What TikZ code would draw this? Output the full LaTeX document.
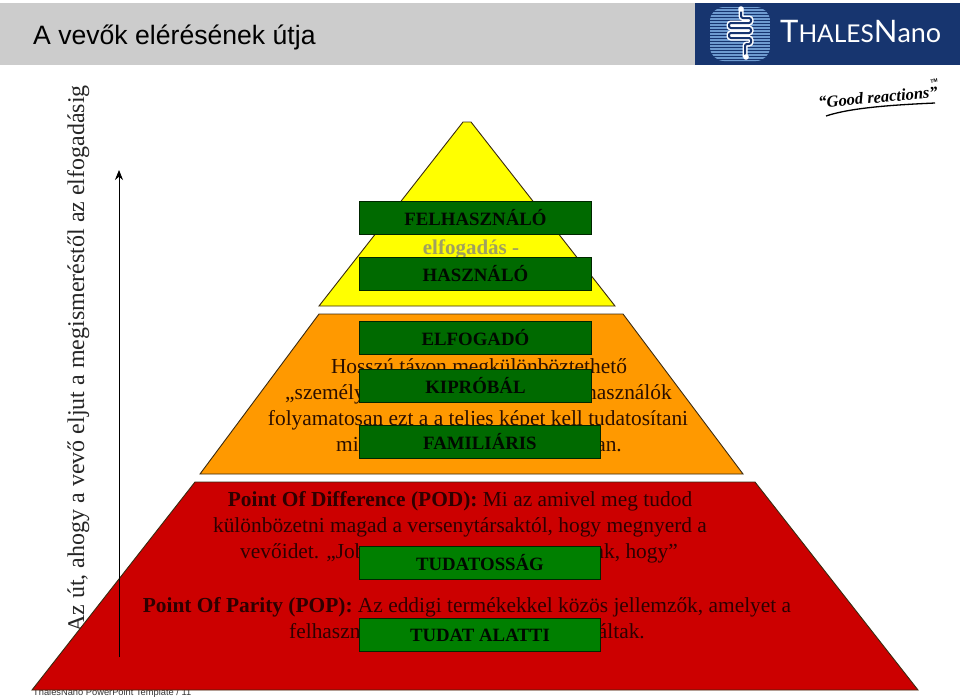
\documentclass[tikz,border=0pt]{standalone}
\usepackage{fontspec}
\setmainfont{Liberation Serif}
\newfontfamily\arialf{Liberation Sans}
\newfontfamily\logof{Lato}
\definecolor{hdrgray}{HTML}{CCCCCC}
\definecolor{navy}{HTML}{17356F}
\definecolor{stripe}{HTML}{6E9BD0}
\definecolor{edgec}{HTML}{3A2A10}
\definecolor{boxg}{HTML}{007F00}
\definecolor{boxgd}{HTML}{006A00}
\definecolor{orangef}{HTML}{FF9900}
\definecolor{redf}{HTML}{CC0000}
\definecolor{yel}{HTML}{FFFF00}
\definecolor{ink}{HTML}{2B0F00}
\definecolor{inkr}{HTML}{2E0000}
\definecolor{fadeg}{HTML}{A0A060}
\usetikzlibrary{arrows.meta}
\tikzset{
  x=1pt,y=-1pt,
  tier/.style={draw=edgec,line width=0.9pt,line join=miter},
  txt/.style={inner sep=0pt,anchor=base,font=\fontsize{21.4}{24}\selectfont,text=ink},
  txtr/.style={txt,text=inkr},
  gbox/.style={draw=black!70!boxg,line width=0.9pt,fill=#1,inner sep=0pt,anchor=north west,align=center,
     font=\fontsize{18.8}{22}\bfseries\selectfont,text=black!92!boxg},
  gbox/.default=boxgd,
  upline/.style={draw=black,line width=0.8pt,-{Stealth[length=10pt,width=8pt]}}
}
\begin{document}
\begin{tikzpicture}
\useasboundingbox (0,0) rectangle (960,699);
% header
\fill[hdrgray] (0,3) rectangle (695,65);
\node[inner sep=0pt,anchor=base west,font=\arialf\fontsize{26.6}{30}\selectfont] (title) at (33,44) {A vevők elérésének útja};
% logo
\fill[navy] (695,3) rectangle (960,65);
\begin{scope}
  \clip[rounded corners=14pt] (710,7) rectangle (770,61);
  \foreach \yy in {7,10,...,61} {\draw[stripe,line width=2pt] (710,\yy) -- (770,\yy);}
\end{scope}
\foreach \wd/\cc in {5pt/white,2pt/navy}{
\draw[\cc,line width=\wd,rounded corners=2pt] (741,10) -- (741,18) -- (751,18) -- (751,23) -- (729,23) -- (729,28) -- (751,28) -- (751,33) -- (729,33) -- (729,38) -- (751,38) -- (751,44) -- (745,44) -- (745,57);}
\fill[white] (741,9) circle (2.8pt) (746,57) circle (2.8pt);
\node[inner sep=0pt,anchor=base west,text=white,font=\logof\fontsize{31}{32}\selectfont] (logo) at (780,42)
  {T{\fontsize{24.5}{32}\selectfont HALES}N{\fontsize{27}{32}\selectfont ano}};
% good reactions
\node[inner sep=0pt,rotate=5,font=\itshape\bfseries\fontsize{16.5}{20}\selectfont] (good) at (878,97) {“Good reactions”};
\node[inner sep=0pt,rotate=5,font=\arialf\bfseries\fontsize{5}{6}\selectfont] (tm) at (934,81) {TM};
\draw[black,line width=1.3pt] (826,116) .. controls (850,108) and (890,105) .. (935,103);
% background texts
\node[inner sep=0pt,anchor=base,rotate=90,font=\fontsize{24}{28}\selectfont,text=black!85] (side) at (84,359) {Az út, ahogy a vevő eljut a megismeréstől az elfogadásig};
\node[inner sep=0pt,anchor=base west,font=\arialf\fontsize{9.3}{11}\selectfont,text=black!80] (foot) at (33,695) {ThalesNano PowerPoint Template / 11};
% pyramid tiers
\filldraw[tier,fill=yel] (463,122) -- (471,122) -- (615,306) -- (319,306) -- cycle;
\filldraw[tier,fill=orangef] (319,314) -- (623,314) -- (743,474) -- (200,474) -- cycle;
\filldraw[tier,fill=redf] (195,482) -- (755,482) -- (918,690) -- (32,690) -- cycle;
% arrow
\coordinate (arrowfoot) at (119,657);
\coordinate (arrowhead) at (119,170);
\draw[upline] (arrowfoot) -- (arrowhead);
% yellow tier text
\node[inner sep=0pt,anchor=base,font=\fontsize{21}{24}\bfseries\selectfont,text=fadeg] (elf) at (471,254) {elfogadás -};
% orange tier text
\node[txt] (o1) at (479,373) {Hosszú távon megkülönböztethető};
\node[txt,anchor=base west] (o2a) at (285,399) {„személy};
\node[txt,anchor=base east] (o2b) at (672,399) {használók};
\node[txt] (o3) at (478,425) {folyamatosan ezt a a teljes képet kell tudatosítani};
\node[txt,anchor=base west] (o4a) at (336,451) {mi};
\node[txt,anchor=base east] (o4b) at (622,451) {an.};
% red tier text
\node[txtr] (r1) at (460,506) {\textbf{Point Of Difference (POD):} Mi az amivel meg tudod};
\node[txtr] (r2) at (460,532) {különbözetni magad a versenytársaktól, hogy megnyerd a};
\node[txtr,anchor=base west] (r3a) at (240,558) {vevőidet. „Job};
\node[txtr,anchor=base east] (r3b) at (678,558) {nk, hogy”};
\node[txtr] (r4) at (467,612) {\textbf{Point Of Parity (POP):} Az eddigi termékekkel közös jellemzők, amelyet a};
\node[txtr,anchor=base west] (r5a) at (289,638) {felhaszn};
\node[txtr,anchor=base east] (r5b) at (645,638) {áltak.};
% green boxes
\node[gbox,minimum width=232pt,minimum height=33pt] (b1) at (359,201) {FELHASZNÁLÓ};
\node[gbox,minimum width=232pt,minimum height=33pt] (b2) at (359,257) {HASZNÁLÓ};
\node[gbox,minimum width=232pt,minimum height=33pt] (b3) at (359,321) {ELFOGADÓ};
\node[gbox,minimum width=232pt,minimum height=33pt] (b4) at (359,369) {\raisebox{2pt}{KIPRÓBÁL}};
\node[gbox,minimum width=241pt,minimum height=33pt] (b5) at (359,425) {FAMILIÁRIS};
\node[gbox=boxg,minimum width=241pt,minimum height=33pt] (b6) at (359,546) {TUDATOSSÁG};
\node[gbox=boxg,minimum width=241pt,minimum height=33pt] (b7) at (359,618) {TUDAT ALATTI};
\end{tikzpicture}
\end{document}
